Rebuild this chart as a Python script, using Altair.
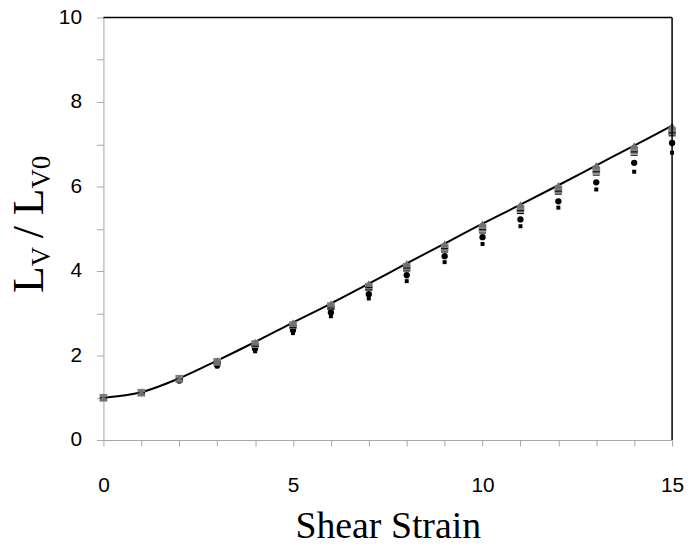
import altair as alt
import pandas as pd

strain = list(range(16))
# series
tri = [1.00, 1.13, 1.46, 1.88, 2.32, 2.78, 3.23, 3.70, 4.18, 4.65, 5.12, 5.57, 6.03, 6.50, 6.97, 7.44]
gsq = [1.00, 1.12, 1.45, 1.85, 2.27, 2.72, 3.17, 3.63, 4.10, 4.56, 5.02, 5.47, 5.93, 6.39, 6.86, 7.31]
dash1 = [1.00, 1.12, 1.45, 1.84, 2.26, 2.71, 3.15, 3.61, 4.07, 4.53, 4.98, 5.43, 5.89, 6.35, 6.82, 7.27]
dash2 = [1.00, 1.12, 1.43, 1.81, 2.22, 2.66, 3.10, 3.55, 4.00, 4.45, 4.90, 5.36, 5.82, 6.27, 6.74, 7.20]
circ = [1.00, 1.11, 1.41, 1.77, 2.16, 2.60, 3.02, 3.45, 3.90, 4.35, 4.80, 5.22, 5.65, 6.10, 6.56, 7.03]
bsq = [1.00, 1.10, 1.39, 1.74, 2.10, 2.53, 2.93, 3.35, 3.76, 4.21, 4.64, 5.06, 5.50, 5.93, 6.35, 6.80]

x_ticks = list(range(16))
y_ticks = list(range(11))
x_title = "Shear Strain"

GREY_AXIS = "#a6a6a6"

xaxis = alt.Axis(values=x_ticks, labelExpr="datum.value % 5 == 0 ? datum.label : ''",
                 grid=False, domainColor=GREY_AXIS, tickColor=GREY_AXIS, tickSize=6,
                 labelFont="Liberation Sans", labelFontSize=21, labelColor="black",
                 labelPadding=29, labelFlush=False, labelOverlap=False,
                 title=x_title, titleFont="Liberation Serif", titleFontSize=38,
                 titleFontWeight="normal", titleColor="black", titlePadding=12)
yaxis = alt.Axis(values=y_ticks, labelExpr="datum.value % 2 == 0 ? datum.label : ''",
                 grid=False, domainColor=GREY_AXIS, tickColor=GREY_AXIS, tickSize=7,
                 labelFont="Liberation Sans", labelFontSize=21, labelColor="black",
                 labelPadding=15, labelFlush=False, labelOverlap=False, title=None)

def xe():
    return alt.X("s:Q", scale=alt.Scale(domain=[0, 15], nice=False), axis=xaxis)

def ye():
    return alt.Y("v:Q", scale=alt.Scale(domain=[0, 10], nice=False), axis=yaxis)

def series(vals):
    return pd.DataFrame({"s": strain, "v": vals})

line = alt.Chart(series(tri)).mark_line(color="black", strokeWidth=2, interpolate="monotone").encode(x=xe(), y=ye())
p_bsq = alt.Chart(series(bsq)).mark_point(shape="square", filled=True, color="black", size=16, opacity=1).encode(x=xe(), y=ye())
p_circ = alt.Chart(series(circ)).mark_point(shape="circle", filled=True, color="black", size=40, opacity=1).encode(x=xe(), y=ye())
p_gsq = alt.Chart(series(gsq)).mark_point(shape="square", filled=True, color="#7f7f7f", size=60, opacity=1).encode(x=xe(), y=ye())
p_d1 = alt.Chart(series(dash1)).mark_point(shape="stroke", filled=False, color="#111111", strokeWidth=1.2, size=50, opacity=1).encode(x=xe(), y=ye())
p_d2 = alt.Chart(series(dash2)).mark_point(shape="stroke", filled=False, color="#111111", strokeWidth=1.2, size=50, opacity=1).encode(x=xe(), y=ye())
p_tri = alt.Chart(series(tri)).mark_point(shape="triangle-up", filled=True, color="#707070", size=60, opacity=1).encode(x=xe(), y=ye())

# top and right frame of the plot area
top_df = pd.DataFrame({"s": [0], "s2": [15], "v": [10]})
right_df = pd.DataFrame({"s": [15], "v": [0], "v2": [10]})
top_rule = alt.Chart(top_df).mark_rule(color="black", strokeWidth=1.5).encode(x=xe(), x2="s2:Q", y=ye())
right_rule = alt.Chart(right_df).mark_rule(color="black", strokeWidth=1.5).encode(x=xe(), y=ye(), y2="v2:Q")

# y-axis title with subscripts
def ttl(txt, x, y, size):
    return alt.Chart(pd.DataFrame({"t": [txt]})).mark_text(
        angle=270, align="left", baseline="alphabetic", font="Liberation Serif",
        fontSize=size, color="black"
    ).encode(x=alt.value(x), y=alt.value(y), text="t:N")

ytitle = [
    ttl("L", -61, 277, 44),
    ttl("V", -54, 250.1, 27),
    ttl("/", -61, 222, 44),
    ttl("L", -61, 199, 44),
    ttl("V0", -54, 172, 27),
]

chart = alt.layer(
    line, p_bsq, p_circ, p_gsq, p_d1, p_d2, p_tri, top_rule, right_rule, *ytitle
).properties(
    width=572, height=425,
    autosize=alt.AutoSizeParams(type="none"),
    padding={"left": 96, "top": 8, "right": 15, "bottom": 99},
    background="white",
).configure_view(stroke=None)

chart.save("out.html", embed_options={"renderer": "svg", "actions": False})
